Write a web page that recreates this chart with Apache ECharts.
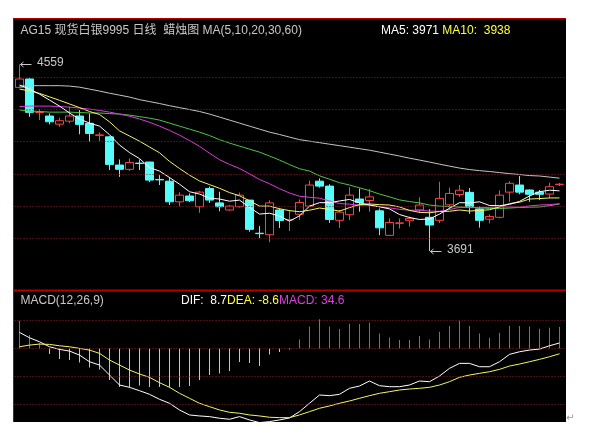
<!DOCTYPE html>
<html>
<head>
<meta charset="utf-8">
<title>AG15 现货白银9995 日线</title>
<script src="https://cdn.jsdelivr.net/npm/echarts@6/dist/echarts.min.js"></script>
<style>
  html, body { margin: 0; padding: 0; background: #fff; }
  #main { width: 600px; height: 435px; }
</style>
</head>
<body>
<div id="main"></div>
<script>
// K线: 开 / 收 / 高 / 低
const opens = [4452, 4491, 4335, 4319, 4281, 4295, 4319, 4285, 4229, 4222,
  4091, 4071, 4100, 4105, 4024, 4016, 3920, 3947, 3897, 3982,
  3915, 3882, 3897, 3928, 3774, 3767, 3882, 3836, 3862, 3900,
  4016, 3993, 3834, 3860, 3933, 3926, 3878, 3764, 3820, 3832,
  3882, 3848, 3834, 3906, 3954, 3964, 3887, 3839, 3848, 3965,
  3998, 3975, 3965, 3956, 4000]
const closes = [4491, 4336, 4337, 4292, 4297, 4319, 4280, 4238, 4231, 4094,
  4071, 4103, 4098, 4021, 4022, 3920, 3951, 3925, 3965, 3928,
  3897, 3900, 3951, 3792, 3772, 3915, 3833, 3838, 3917, 3998,
  3993, 3838, 3872, 3951, 3917, 3943, 3799, 3824, 3822, 3843,
  3905, 3812, 3936, 3959, 3974, 3894, 3834, 3852, 3951, 4006,
  3965, 3955, 3955, 3990, 4002]
const highs = [4559, 4495, 4351, 4331, 4311, 4362, 4347, 4331, 4243, 4226,
  4117, 4122, 4117, 4106, 4044, 4033, 3964, 3959, 3970, 3991,
  3967, 3905, 3963, 3928, 3807, 3927, 3889, 3882, 3931, 4019,
  4029, 4002, 3882, 3988, 3982, 3979, 3889, 3843, 3843, 3852,
  3941, 3886, 4013, 3986, 3998, 3984, 3899, 3862, 3973, 4016,
  4040, 3978, 3975, 4009, 4008]
const lows = [4449, 4315, 4300, 4280, 4269, 4285, 4234, 4199, 4202, 4068,
  4036, 4063, 4068, 4012, 3998, 3905, 3898, 3919, 3869, 3915,
  3876, 3878, 3893, 3781, 3751, 3732, 3798, 3784, 3835, 3897,
  3986, 3822, 3799, 3835, 3874, 3874, 3765, 3761, 3796, 3804,
  3868, 3691, 3821, 3884, 3943, 3864, 3800, 3820, 3843, 3920,
  3955, 3920, 3928, 3937, 3993]

// 均线
const ma5 = [4463, 4444, 4421, 4393, 4365, 4333, 4305, 4286, 4272, 4232,
  4184, 4149, 4121, 4079, 4063, 4033, 4002, 3967, 3956, 3937,
  3933, 3923, 3928, 3894, 3863, 3867, 3854, 3830, 3855, 3900,
  3916, 3916, 3924, 3931, 3915, 3905, 3897, 3887, 3861, 3847,
  3838, 3840, 3863, 3890, 3916, 3915, 3920, 3903, 3902, 3908,
  3922, 3947, 3967, 3974, 3971]
const ma10 = [4444, 4436, 4424, 4408, 4392, 4375, 4358, 4340, 4326, 4292,
  4250, 4226, 4202, 4175, 4148, 4108, 4075, 4044, 4017, 4000,
  3983, 3963, 3948, 3925, 3900, 3900, 3888, 3879, 3874, 3881,
  3891, 3885, 3877, 3893, 3907, 3910, 3907, 3905, 3896, 3880,
  3871, 3869, 3875, 3876, 3882, 3877, 3880, 3883, 3896, 3912,
  3918, 3933, 3935, 3938, 3938]
const ma20 = [4363, 4365, 4365, 4365, 4363, 4360, 4356, 4351, 4345, 4337,
  4328, 4318, 4305, 4290, 4272, 4252, 4230, 4205, 4178, 4146,
  4116, 4094, 4075, 4050, 4024, 4004, 3981, 3961, 3946, 3941,
  3937, 3924, 3912, 3909, 3904, 3905, 3897, 3892, 3885, 3881,
  3881, 3877, 3876, 3884, 3894, 3893, 3893, 3894, 3896, 3896,
  3895, 3901, 3905, 3907, 3911]
const ma30 = [4347, 4342, 4340, 4337, 4337, 4337, 4335, 4333, 4333, 4330,
  4328, 4323, 4316, 4309, 4300, 4286, 4272, 4258, 4244, 4228,
  4209, 4193, 4179, 4165, 4151, 4133, 4114, 4093, 4074, 4063,
  4041, 4025, 4009, 3998, 3985, 3972, 3956, 3943, 3929, 3921,
  3915, 3905, 3900, 3898, 3896, 3895, 3892, 3889, 3889, 3891,
  3894, 3895, 3896, 3902, 3910]
const ma60 = [4458, 4460, 4460, 4460, 4460, 4458, 4453, 4444, 4435, 4425,
  4416, 4407, 4395, 4386, 4377, 4367, 4358, 4349, 4340, 4328,
  4314, 4300, 4286, 4272, 4258, 4244, 4233, 4221, 4209, 4202,
  4195, 4188, 4181, 4174, 4167, 4160, 4151, 4142, 4133, 4123,
  4114, 4105, 4095, 4086, 4077, 4070, 4065, 4061, 4056, 4051,
  4047, 4042, 4040, 4035, 4030]

// MACD(12,26,9)
const dif = [25.6, 17, 10.6, 2.6, -1.6, -4.3, -10.7, -21.4, -26.7, -42.7,
  -58.7, -62.4, -67.8, -73.6, -81.6, -88, -98.7, -106.7, -108.3, -109.4,
  -112, -113.6, -109.4, -114.7, -119, -117.4, -114.7, -111.5, -101.4, -88,
  -74.7, -75.8, -73.6, -64, -60.3, -52.3, -59.8, -61.4, -61.4, -58.7,
  -52.3, -53.4, -44.3, -32, -24, -24, -29.4, -29.4, -21.4, -9.6,
  -5.4, -2.7, -1.1, 4.2, 8.7]
const dea = [2.6, 5.3, 6.9, 6.4, 4.2, 2.6, 0, -2.7, -8, -18.7,
  -26.7, -34.7, -41.1, -46.4, -55, -62.4, -72, -80, -88, -93.4,
  -98.7, -102.4, -104, -106.7, -108.3, -110.4, -111, -111, -106.7, -101.4,
  -96, -92.3, -88, -84.3, -80, -75.8, -72, -69.4, -66.7, -65.1,
  -64, -62.4, -58.7, -53.4, -46.4, -42.7, -40, -37.4, -33.6, -28.3,
  -25.1, -21.4, -17.6, -13.4, -8.6]
const macd = [44.2, 21.3, 8.5, -9.1, -17, -18.7, -22.7, -30.7, -34, -50.7,
  -61.9, -62.7, -59.5, -62, -62, -62.7, -62, -60.3, -50.7, -42.7,
  -40.3, -36.3, -21.9, -23.5, -28.3, -9.9, -5.9, -1.9, 14.4, 34.9,
  46.6, 35.2, 30.9, 39.5, 38.9, 41, 24, 17.6, 13.3, 13.3,
  19.7, 14.4, 26.6, 35.7, 44.2, 35.7, 24, 17, 25, 36,
  36, 34.9, 31.4, 33, 34.6]

// 网格线刻度
const priceTicks = [4500, 4350, 4200, 4050, 3900, 3750]
const macdTicks = [45, 0, -45, -90]

// 标注 / 图例数值
const highMark = { idx: 0, value: 4559 }
const lowMark = { idx: 41, value: 3691 }
const lastMA5 = 3971
const lastMA10 = 3938
const lastDIF = 8.7
const lastDEA = -8.6
const lastMACD = 34.6

const days = opens.map((_, i) => String(i + 1))
const kData = opens.map((o, i) => [o, closes[i], lows[i], highs[i]])
const macdData = macd.map((v, i) => [i, v])

const FONT = '12px "Liberation Sans", "Noto Sans CJK SC", sans-serif'
const RED = '#ff4040'
const CYAN = '#54fcfc'
const GRID_RED = '#8c1c1c'

const dotted = (ticks) => ({
  silent: true,
  symbol: ['none', 'none'],
  label: { show: false },
  emphasis: { disabled: true },
  lineStyle: { color: GRID_RED, type: [1, 2], width: 1 },
  data: ticks.map((v) => ({ yAxis: v })),
})

const maLine = (data, color) => ({
  type: 'line',
  xAxisIndex: 0,
  yAxisIndex: 0,
  data,
  symbol: 'none',
  silent: true,
  lineStyle: { color, width: 1 },
})

// MACD 柱: 从零轴起的 1px 矩形
const renderHist = (params, api) => {
  const v = api.value(1)
  const top = api.coord([api.value(0), v])
  const base = api.coord([api.value(0), 0])
  const x = Math.round(top[0] - 0.5)
  const y1 = Math.min(top[1], base[1])
  return {
    type: 'rect',
    shape: { x, y: y1, width: 1, height: Math.abs(top[1] - base[1]) },
    style: { fill: v >= 0 ? '#ff3a3a' : '#3cffff' },
  }
}

const chart = echarts.init(document.getElementById('main'))
chart.setOption({
  backgroundColor: '#fff',
  animation: false,
  grid: [
    { left: 14.5, width: 550, top: 19, height: 271 },
    { left: 14.5, width: 550, top: 291, height: 131 },
  ],
  xAxis: [
    { type: 'category', gridIndex: 0, data: days, boundaryGap: true, show: false },
    { type: 'category', gridIndex: 1, data: days, boundaryGap: true, show: false },
  ],
  yAxis: [
    { type: 'value', gridIndex: 0, min: 3510, max: 4770, show: false },
    { type: 'value', gridIndex: 1, min: -118, max: 92, show: false },
  ],
  series: [
    {
      type: 'candlestick',
      xAxisIndex: 0,
      yAxisIndex: 0,
      data: kData,
      barWidth: 8,
      silent: true,
      itemStyle: {
        color: '#000',
        color0: CYAN,
        borderColor: RED,
        borderColor0: CYAN,
        borderWidth: 1,
      },
      markLine: dotted(priceTicks),
    },
    maLine(ma60, '#c4c4c4'),
    maLine(ma30, '#4cc44c'),
    maLine(ma20, '#dc3cdc'),
    maLine(ma10, '#f4f46a'),
    maLine(ma5, '#ffffff'),
    {
      type: 'custom',
      xAxisIndex: 1,
      yAxisIndex: 1,
      data: macdData,
      silent: true,
      renderItem: renderHist,
      markLine: dotted(macdTicks),
    },
    {
      type: 'line',
      xAxisIndex: 1,
      yAxisIndex: 1,
      data: dif,
      symbol: 'none',
      silent: true,
      lineStyle: { color: '#ffffff', width: 1 },
    },
    {
      type: 'line',
      xAxisIndex: 1,
      yAxisIndex: 1,
      data: dea,
      symbol: 'none',
      silent: true,
      lineStyle: { color: '#f4f46a', width: 1 },
    },
  ],
})

// 最高 / 最低价标注, 位置由坐标系换算
const arrowMark = (id, mark) => {
  const [px, py] = chart.convertToPixel({ gridIndex: 0 }, [mark.idx, mark.value])
  const y = Math.round(py) + 0.5
  const x = Math.round(px - 0.5) + 0.5
  return {
    type: 'group',
    id,
    z: 100,
    children: [
      { type: 'line', shape: { x1: x + 1, y1: y, x2: x + 12, y2: y }, style: { stroke: '#c8c8c8', lineWidth: 1 } },
      { type: 'polyline', shape: { points: [[x + 4, y - 2.5], [x + 1, y], [x + 4, y + 2.5]] }, style: { stroke: '#c8c8c8', lineWidth: 1, fill: null } },
      { type: 'text', style: { x: x + 17.5, y: y - 1.5, text: String(mark.value), font: FONT, fill: '#c8c8c8', verticalAlign: 'middle' } },
    ],
  }
}

const txt = (id, x, y, text, rich) => ({
  type: 'text',
  id,
  z: 100,
  style: { x, y, text, font: FONT, fill: '#c8c8c8', verticalAlign: 'middle', rich },
})

chart.setOption({
  graphic: [
    { type: 'rect', id: 'bg', z: -10, shape: { x: 13, y: 18, width: 553, height: 404 }, style: { fill: '#000' } },
    { type: 'line', id: 'bTop', z: 50, shape: { x1: 13, y1: 18.5, x2: 566, y2: 18.5 }, style: { stroke: '#b00000', lineWidth: 1 } },
    { type: 'line', id: 'bLeft', z: 50, shape: { x1: 13.5, y1: 18, x2: 13.5, y2: 422 }, style: { stroke: '#b00000', lineWidth: 1 } },
    { type: 'line', id: 'bMid', z: 50, shape: { x1: 13, y1: 290.5, x2: 566, y2: 290.5 }, style: { stroke: '#b00000', lineWidth: 2 } },
    txt('title', 20.5, 31, 'AG15 现货白银9995 日线  蜡烛图 MA(5,10,20,30,60)'),
    txt('maLegend', 381, 31, `{w|MA5: ${lastMA5} }{y|MA10:  ${lastMA10}}`, {
      w: { fill: '#ffffff', font: FONT },
      y: { fill: '#ffff3c', font: FONT },
    }),
    txt('macdTitle', 20.5, 301, 'MACD(12,26,9)'),
    txt('macdLegend', 181, 301, `{w|DIF:  ${lastDIF}}{y|DEA: ${lastDEA}}{m|MACD: ${lastMACD}}`, {
      w: { fill: '#ffffff', font: FONT },
      y: { fill: '#ffff3c', font: FONT },
      m: { fill: '#e03ce0', font: FONT },
    }),
    arrowMark('hi', highMark),
    arrowMark('lo', lowMark),
    { type: 'text', id: 'ret', z: 100, style: { x: 566, y: 418, text: '↵', font: '10px "DejaVu Sans"', fill: '#999', verticalAlign: 'middle' } },
  ],
})
</script>
</body>
</html>
